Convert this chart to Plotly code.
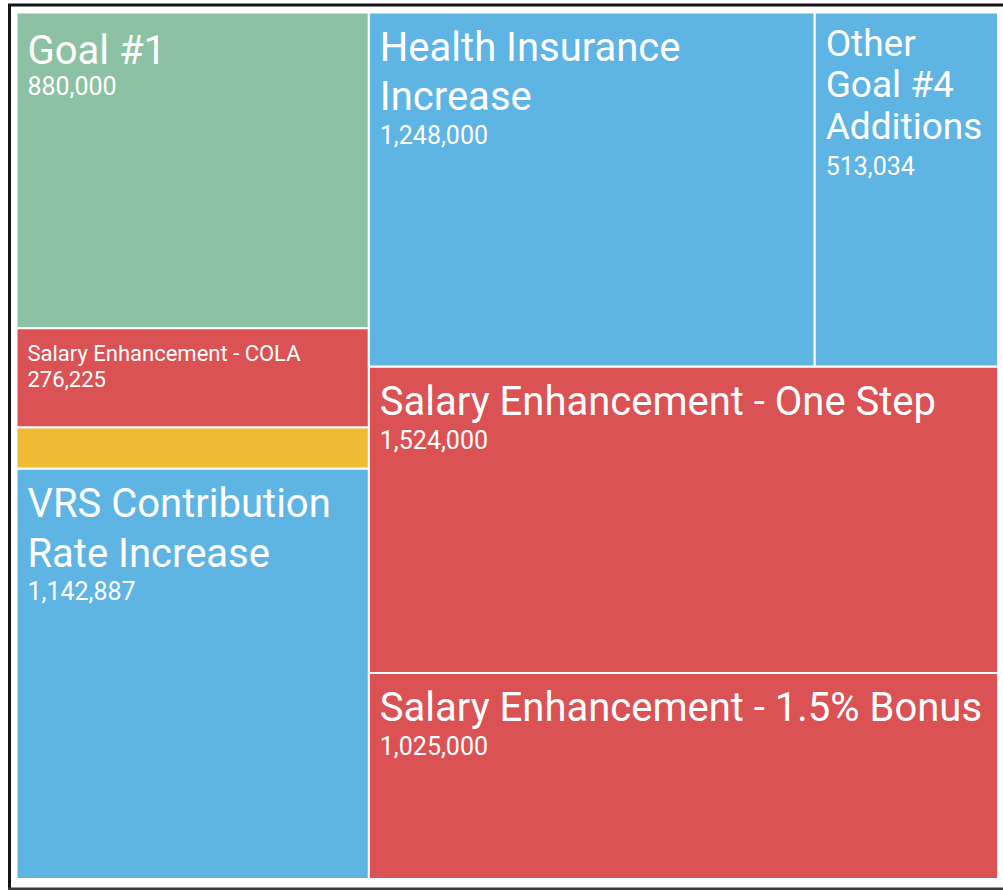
import plotly.graph_objects as go

W, H = 1003, 890

# ---- data ----
leaf_ids = ["goal1", "cola", "unlabeled", "vrs", "health", "goal4", "onestep", "bonus"]
leaf_labels = ["Goal #1", "Salary Enhancement - COLA", "", "VRS Contribution Rate Increase",
               "Health Insurance Increase", "Other Goal #4 Additions",
               "Salary Enhancement - One Step", "Salary Enhancement - 1.5% Bonus"]
leaf_lines = [["Goal #1"], ["Salary Enhancement - COLA"], [], ["VRS Contribution", "Rate Increase"],
              ["Health Insurance", "Increase"], ["Other", "Goal #4", "Additions"],
              ["Salary Enhancement - One Step"], ["Salary Enhancement - 1.5% Bonus"]]
leaf_values = [880000, 276225, 115000, 1142887, 1248000, 513034, 1524000, 1025000]
leaf_parents = ["left", "left", "left", "left", "top", "top", "right", "right"]

group_ids = ["root", "left", "right", "top"]
group_parents = ["", "root", "root", "right"]

# ---- styles ----
GREEN, RED, YELLOW, BLUE = "#8CC2A3", "#DA5254", "#EEBB33", "#5EB4E3"
leaf_colors = [GREEN, RED, YELLOW, BLUE, BLUE, BLUE, RED, RED]
STEP = 2.6           # px per (blank) line; base font = STEP / 1.3
SPACER = 10          # spacer font size (px)
PAD = 1.5            # effective inner text pad
# (label size, value size, first baseline offset, label-label gap, label-value gap)
styles = {
    "main": (40, 25, 48.5, 48.5, 33.5),
    "goal1": (40, 25, 49, 48, 32),
    "goal4": (37, 25, 42, 41.5, 36),
    "cola": (22, 22, 30, 26, 26),
}
leaf_style = ["goal1", "cola", "cola", "main", "main", "goal4", "main", "main"]

NB = "\u00a0"


def build_text(lines, value, st):
    ls, vs, first, ll, lv = styles[st]
    if not lines:
        return ""
    indent = f"<span style='font-size:32px'>{NB}</span>"
    k = round((first - PAD - 0.93 * SPACER) / STEP)
    n_ll = round(ll / STEP)
    n_lv = round(lv / STEP)
    out = [f"<span style='font-size:{SPACER}px'>{NB}</span>"]
    out += [""] * (k - 1)
    for i, ln in enumerate(lines):
        if i > 0:
            out += [""] * (n_ll - 1)
        out.append(f"{indent}<span style='font-size:{ls}px'>{ln}</span>")
    out += [""] * (n_lv - 1)
    out.append(f"{indent}<span style='font-size:{vs}px'>{value:,}</span>")
    return "<br>".join(out)


ids = group_ids + leaf_ids
parents = group_parents + leaf_parents
labels = ["", "", "", ""] + leaf_labels
values = [0, 0, 0, 0] + leaf_values
colors = ["#FFFFFF"] * 4 + leaf_colors
texts = [""] * 4 + [build_text(l, v, s) for l, v, s in zip(leaf_lines, leaf_values, leaf_style)]

fig = go.Figure(go.Treemap(
    ids=ids,
    parents=parents,
    labels=labels,
    values=values,
    text=texts,
    texttemplate="%{text}",
    textposition="top left",
    branchvalues="remainder",
    sort=False,
    marker=dict(colors=colors, line=dict(width=2, color="#FFFFFF"),
                pad=dict(t=0, l=0, r=0, b=0)),
    tiling=dict(packing="slice-dice", pad=0),
    pathbar=dict(visible=False),
    textfont=dict(family="Roboto", color="#FFFFFF", size=STEP / 1.3),
    domain=dict(x=[16.5 / W, 998 / W], y=[1 - 879 / H, 1 - 12.5 / H]),
    hoverinfo="label+value",
))

# outer frame (left, top, bottom edges)
frame = dict(color="#141414", width=3)
fig.add_shape(type="line", xref="paper", yref="paper",
              x0=9.5 / W, x1=9.5 / W, y0=1 - 889 / H, y1=1 - 5 / H, line=frame)
fig.add_shape(type="line", xref="paper", yref="paper",
              x0=8 / W, x1=1.02, y0=1 - 5 / H, y1=1 - 5 / H, line=frame)
fig.add_shape(type="line", xref="paper", yref="paper",
              x0=8 / W, x1=1.02, y0=1 - 889 / H, y1=1 - 889 / H,
              line=dict(color="#3A3A3A", width=3))

fig.update_layout(width=W, height=H, margin=dict(l=0, r=0, t=0, b=0),
                  paper_bgcolor="#FFFFFF", showlegend=False)

fig.write_html("out.html", config={"displayModeBar": False},
               post_script="document.body.style.margin='0px';document.body.style.overflow='hidden';")
